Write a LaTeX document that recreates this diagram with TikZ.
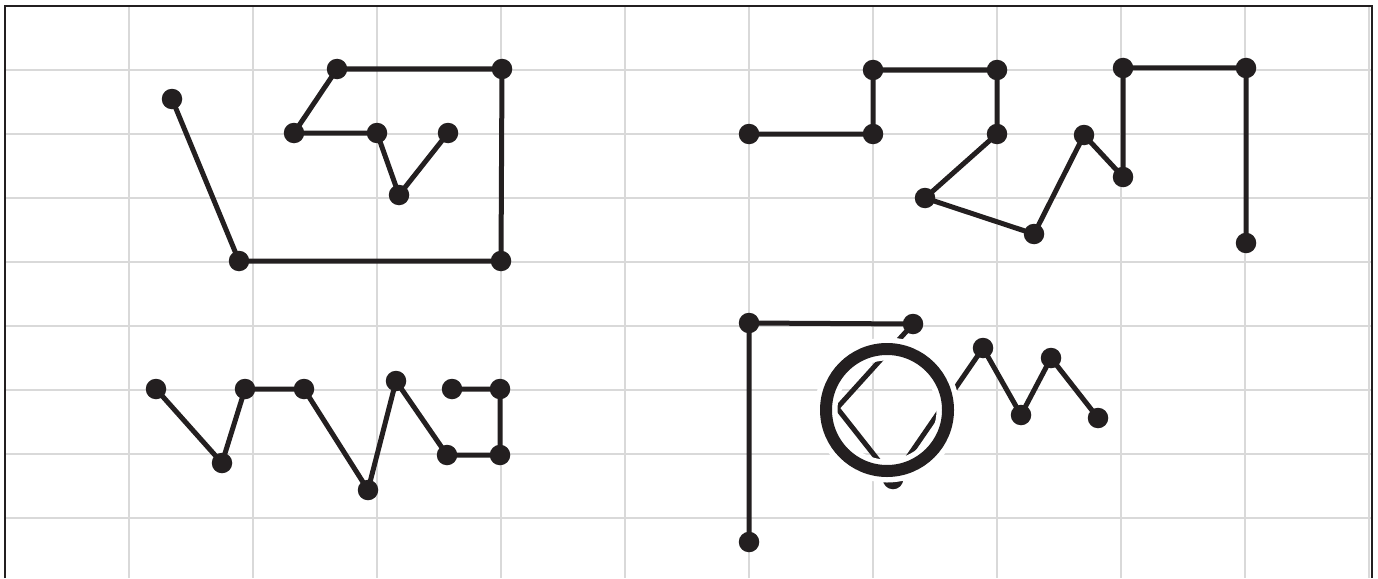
\documentclass[tikz,border=0pt]{standalone}
\definecolor{ink}{HTML}{231F20}
\definecolor{gridgray}{HTML}{D9D9D9}
\tikzset{
  dot/.style={circle, fill=ink, inner sep=0pt, minimum size=20.5pt},
  wire/.style={draw=ink, line width=5pt},
  gridline/.style={draw=gridgray, line width=1.5pt},
  frame/.style={draw=ink, line width=2.5pt}
}
\begin{document}
\begin{tikzpicture}[x=1pt,y=-1pt]
\useasboundingbox (0,0) rectangle (1378,578);
\fill[white] (0,0) rectangle (1378,578);
% grid
\foreach \x in {129,253,377,501,625,749,873,997,1121,1245,1369}
  \draw[gridline] (\x,6) -- (\x,578);
\foreach \y in {70,134,198,262,326,390,454,518}
  \draw[gridline] (5,\y) -- (1372,\y);
% frame
\draw[frame] (5,578) -- (5,6) -- (1372,6) -- (1372,578);

% panel 1
\coordinate (a1) at (172,99);
\coordinate (a2) at (239,261);
\coordinate (a3) at (501,261);
\coordinate (a4) at (502,69);
\coordinate (a5) at (337,69);
\coordinate (a6) at (294,133);
\coordinate (a7) at (377,133);
\coordinate (a8) at (399,195);
\coordinate (a9) at (448,133);
\draw[wire] (a1) -- (a2) -- (a3) -- (a4) -- (a5) -- (a6) -- (a7) -- (a8) -- (a9);
\foreach \n in {a1,a2,a3,a4,a5,a6,a7,a8,a9} \node[dot] at (\n) {};

% panel 2
\coordinate (b1) at (749,134);
\coordinate (b2) at (873,134);
\coordinate (b3) at (873,70);
\coordinate (b4) at (997,70);
\coordinate (b5) at (997,134);
\coordinate (b6) at (925,198);
\coordinate (b7) at (1034,234);
\coordinate (b8) at (1084,135);
\coordinate (b9) at (1123,177);
\coordinate (b10) at (1123,68);
\coordinate (b11) at (1246,68);
\coordinate (b12) at (1246,243);
\draw[wire] (b1) -- (b2) -- (b3) -- (b4) -- (b5) -- (b6) -- (b7) -- (b8) -- (b9) -- (b10) -- (b11) -- (b12);
\foreach \n in {b1,b2,b3,b4,b5,b6,b7,b8,b9,b10,b11,b12} \node[dot] at (\n) {};

% panel 3
\coordinate (c1) at (156,389);
\coordinate (c2) at (222,463);
\coordinate (c3) at (245,389);
\coordinate (c4) at (304,389);
\coordinate (c5) at (368,490);
\coordinate (c6) at (396,381);
\coordinate (c7) at (447,455);
\coordinate (c8) at (500,455);
\coordinate (c9) at (500,389);
\coordinate (c10) at (452,389);
\draw[wire] (c1) -- (c2) -- (c3) -- (c4) -- (c5) -- (c6) -- (c7) -- (c8) -- (c9) -- (c10);
\foreach \n in {c1,c2,c3,c4,c5,c6,c7,c8,c9,c10} \node[dot] at (\n) {};

% panel 4
\coordinate (d1) at (749,542);
\coordinate (d2) at (749,323);
\coordinate (d3) at (913,324);
\coordinate (d4) at (837,408);
\coordinate (d5) at (893,479);
\coordinate (d6) at (983,348);
\coordinate (d7) at (1021,415);
\coordinate (d8) at (1051,358);
\coordinate (d9) at (1098,418);
\draw[wire] (d1) -- (d2) -- (d3) -- (d4) -- (d5) -- (d6) -- (d7) -- (d8) -- (d9);
\foreach \n in {d1,d2,d3,d5,d6,d7,d8,d9} \node[dot] at (\n) {};
% magnifier ring
\coordinate (ring) at (887,410);
\draw[white, line width=23pt] (ring) circle[radius=61];
\draw[ink, line width=12pt] (ring) circle[radius=61];
\end{tikzpicture}
\end{document}
